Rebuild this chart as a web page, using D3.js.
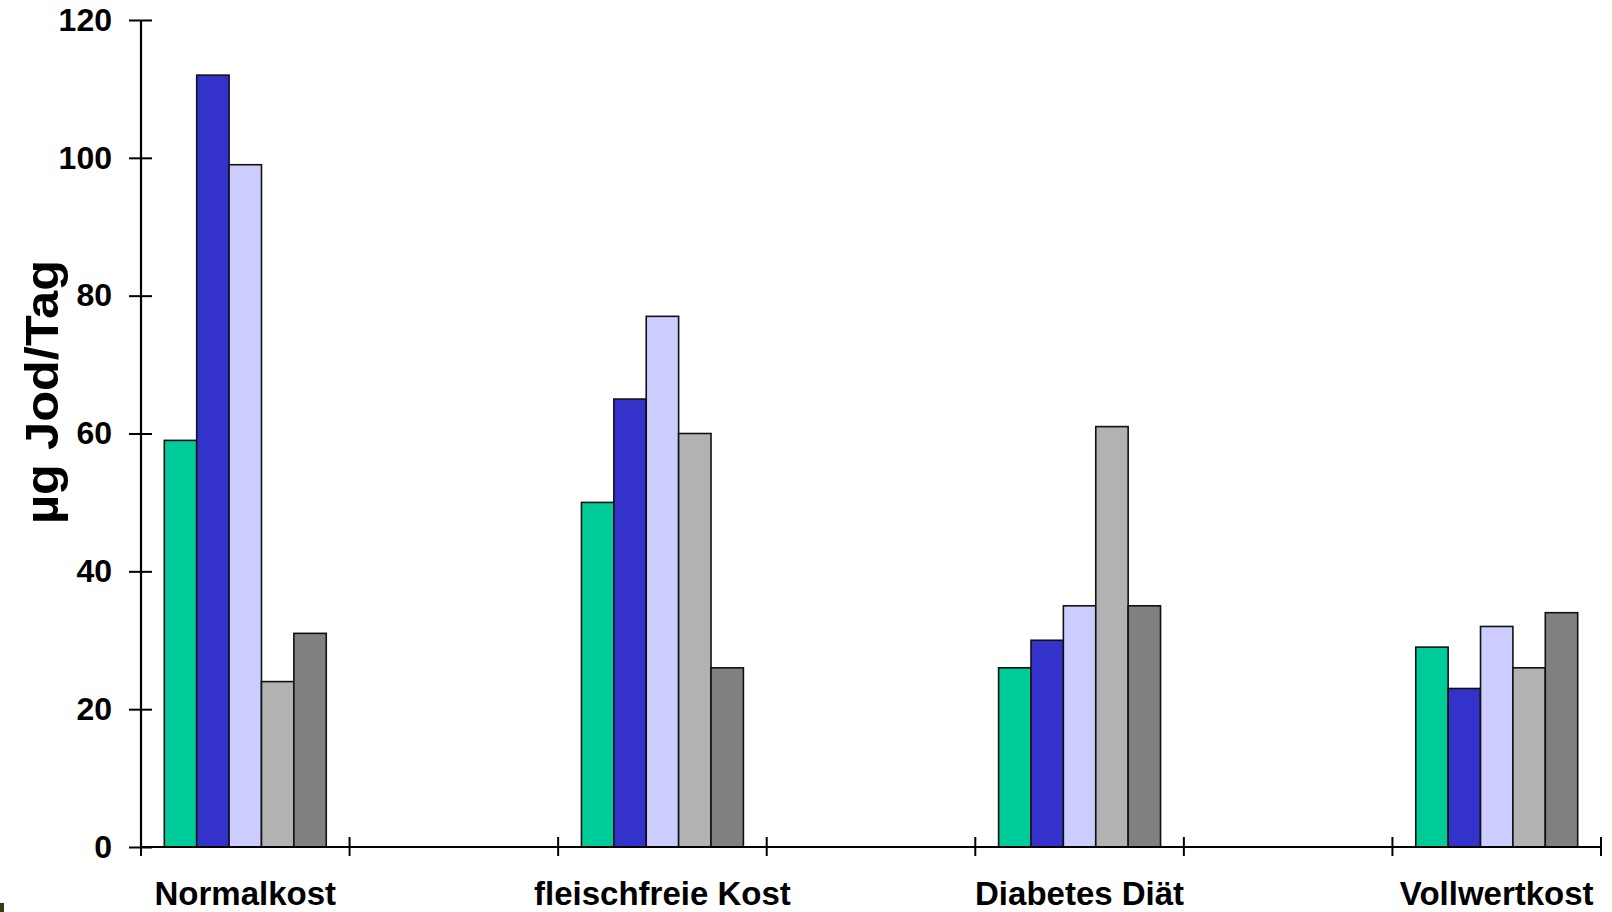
<!DOCTYPE html>
<html><head><meta charset="utf-8">
<script src="https://cdn.jsdelivr.net/npm/d3@7"></script>
<style>html,body{margin:0;padding:0;background:#fff;}svg{display:block;}</style>
</head><body>
<svg id="chart" width="1612" height="912"></svg>
<script>
const categories = ["Normalkost", "fleischfreie Kost", "Diabetes Diät", "Vollwertkost"];
const seriesNames = ["Serie 1", "Serie 2", "Serie 3", "Serie 4", "Serie 5"];
const seriesColors = ["#00CC99", "#3333CC", "#CCCCFF", "#B2B2B2", "#808080"];
const values = [
  [59, 112, 99, 24, 31],
  [50, 65, 77, 60, 26],
  [26, 30, 35, 61, 35],
  [29, 23, 32, 26, 34]
];
const yTicks = [0, 20, 40, 60, 80, 100, 120];
const yTitle = "µg Jod/Tag";

(function () {
const svg = d3.select("#chart");
const font = "Arial, 'Liberation Sans', sans-serif";
const mLeft = 141, mRight = 1601, mTop = 20, mBottom = 847;

const slots = [];
categories.forEach((c, i) => { slots.push(c); if (i < categories.length - 1) slots.push("__gap" + i); });

const x = d3.scaleBand().domain(slots).range([mLeft, mRight]).padding(0);
const xi = d3.scaleBand().domain(seriesNames).range([0, x.bandwidth()]).paddingInner(0).paddingOuter(0.72);
const y = d3.scaleLinear().domain([0, 120]).range([mBottom, mTop]);

const groups = svg.append("g").selectAll("g").data(categories).join("g")
  .attr("transform", d => `translate(${x(d)},0)`);
groups.selectAll("rect").data((d, i) => values[i].map((v, j) => ({v, s: seriesNames[j], c: seriesColors[j]})))
  .join("rect")
  .attr("x", d => xi(d.s))
  .attr("width", xi.bandwidth())
  .attr("y", d => y(d.v))
  .attr("height", d => y(0) - y(d.v))
  .attr("fill", d => d.c)
  .attr("stroke", "#111")
  .attr("stroke-width", 1.6);

const yAxis = svg.append("g").attr("transform", `translate(${mLeft},0)`)
  .call(d3.axisLeft(y).tickValues(yTicks).tickSize(12).tickPadding(17).tickFormat(d3.format("d")));
yAxis.select(".domain").attr("stroke", "#000").attr("stroke-width", 2.2).attr("d", `M0,${mTop}V${mBottom}`);
yAxis.selectAll(".tick line").attr("x1", -12).attr("x2", 11).attr("stroke", "#000").attr("stroke-width", 2);
yAxis.selectAll(".tick text").attr("font-family", font).attr("font-weight", "bold").attr("font-size", 32).attr("fill", "#000");

const xAxis = svg.append("g").attr("transform", `translate(0,${mBottom})`);
xAxis.append("line").attr("x1", mLeft).attr("x2", mRight).attr("y1", 0).attr("y2", 0)
  .attr("stroke", "#000").attr("stroke-width", 2.2);
const boundaries = slots.map(s => x(s)).concat([mRight]);
xAxis.selectAll("line.tk").data(boundaries).join("line").attr("class", "tk")
  .attr("x1", d => d).attr("x2", d => d).attr("y1", -10).attr("y2", 9)
  .attr("stroke", "#000").attr("stroke-width", 2);
xAxis.selectAll("text").data(categories).join("text")
  .attr("x", d => x(d) + x.bandwidth() / 2)
  .attr("y", 58)
  .attr("text-anchor", "middle")
  .attr("font-family", font).attr("font-weight", "bold").attr("font-size", 33)
  .attr("fill", "#000")
  .text(d => d);

svg.append("text")
  .attr("transform", "translate(58,392) rotate(-90)")
  .attr("text-anchor", "middle")
  .attr("font-family", font).attr("font-weight", "bold").attr("font-size", 46)
  .attr("textLength", 264).attr("lengthAdjust", "spacingAndGlyphs")
  .attr("fill", "#000")
  .text(yTitle);

svg.append("rect").attr("x", 0).attr("y", 903).attr("width", 4).attr("height", 9).attr("fill", "#3a3a10");
})();
</script>
</body></html>
